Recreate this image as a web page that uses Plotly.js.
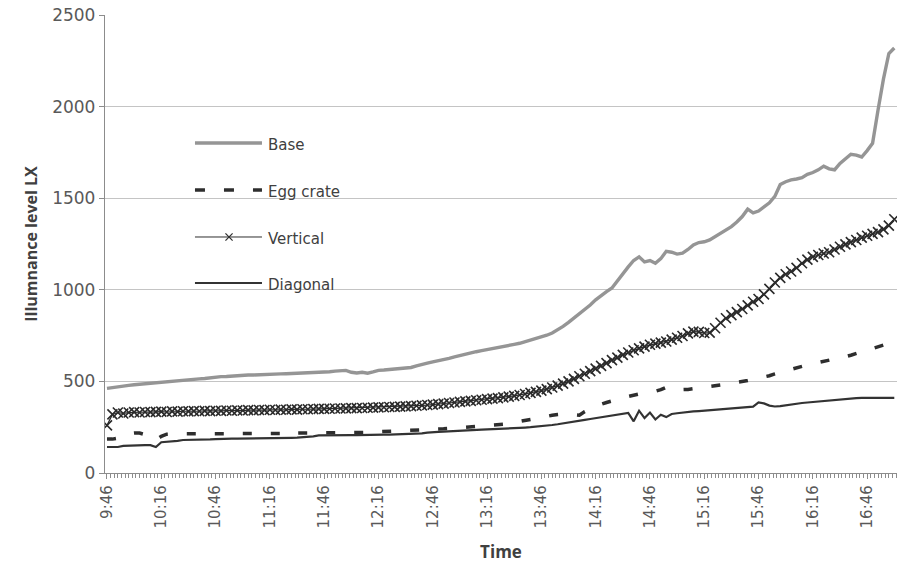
<!DOCTYPE html>
<html>
<head>
<meta charset="utf-8">
<script src="https://cdn.plot.ly/plotly-3.0.1.min.js"></script>
<style>html,body{margin:0;padding:0;background:#fff;}#chart{width:899px;height:565px;}</style>
</head>
<body>
<div id="chart"></div>
<script>
// Sample times (every 3 minutes)
const timeLabels = [
  "9:46","9:49","9:52","9:55","9:58","10:01","10:04","10:07","10:10","10:13",
  "10:16","10:19","10:22","10:25","10:28","10:31","10:34","10:37","10:40","10:43",
  "10:46","10:49","10:52","10:55","10:58","11:01","11:04","11:07","11:10","11:13",
  "11:16","11:19","11:22","11:25","11:28","11:31","11:34","11:37","11:40","11:43",
  "11:46","11:49","11:52","11:55","11:58","12:01","12:04","12:07","12:10","12:13",
  "12:16","12:19","12:22","12:25","12:28","12:31","12:34","12:37","12:40","12:43",
  "12:46","12:49","12:52","12:55","12:58","13:01","13:04","13:07","13:10","13:13",
  "13:16","13:19","13:22","13:25","13:28","13:31","13:34","13:37","13:40","13:43",
  "13:46","13:49","13:52","13:55","13:58","14:01","14:04","14:07","14:10","14:13",
  "14:16","14:19","14:22","14:25","14:28","14:31","14:34","14:37","14:40","14:43",
  "14:46","14:49","14:52","14:55","14:58","15:01","15:04","15:07","15:10","15:13",
  "15:16","15:19","15:22","15:25","15:28","15:31","15:34","15:37","15:40","15:43",
  "15:46","15:49","15:52","15:55","15:58","16:01","16:04","16:07","16:10","16:13",
  "16:16","16:19","16:22","16:25","16:28","16:31","16:34","16:37","16:40","16:43",
  "16:46","16:49","16:52","16:55","16:58","17:01"
];

const baseValues = [
  462,465,468,472,478,482,485,487,490,492,
  495,498,500,503,505,508,512,514,516,520,
  524,526,527,530,532,533,535,535,537,537,
  538,540,541,542,543,545,545,546,548,550,
  551,553,556,558,560,550,546,550,545,552,
  560,562,564,566,568,571,576,585,594,600,
  607,612,619,626,634,642,650,656,662,668,
  673,679,684,690,695,702,708,716,724,732,
  742,752,764,780,800,822,845,868,892,917,
  945,970,990,1010,1050,1090,1125,1160,1180,1152,
  1160,1145,1170,1210,1205,1195,1200,1220,1245,1258,
  1262,1272,1290,1310,1330,1345,1370,1400,1440,1420,
  1430,1455,1475,1510,1575,1590,1600,1605,1612,1630,
  1640,1655,1675,1660,1655,1690,1715,1740,1735,1725,
  1760,1800,1980,2150,2290,2320
];

const eggCrateValues = [
  185,185,190,205,215,218,218,210,190,180,
  200,212,214,214,214,214,214,214,215,215,
  215,215,215,215,215,215,215,216,216,216,
  216,216,216,210,222,218,218,219,219,220,
  220,220,220,220,220,220,220,220,222,224,
  225,226,227,228,229,230,232,233,235,236,
  238,240,241,243,245,248,250,252,254,256,
  258,260,262,266,270,276,282,288,294,298,
  303,309,315,319,322,320,318,315,335,350,
  365,375,385,395,402,410,418,426,434,438,
  442,446,455,468,470,462,455,456,460,463,
  466,469,472,478,484,490,494,498,505,512,
  518,525,531,541,550,558,566,575,582,590,
  596,602,608,613,620,628,635,643,652,660,
  668,678,688,698,710,722
];

const verticalValues = [
  260,320,330,325,330,332,330,333,332,334,
  335,333,336,335,337,336,338,337,339,338,
  340,339,341,340,342,341,343,342,344,343,
  345,344,346,345,347,346,348,348,349,350,
  350,351,352,352,353,354,354,355,356,357,
  358,359,360,361,362,364,365,367,369,371,
  373,376,379,382,385,388,391,394,397,400,
  403,406,409,413,417,421,426,431,437,443,
  450,458,467,477,488,500,514,528,542,556,
  570,585,600,616,630,645,658,670,680,690,
  700,706,712,718,728,738,748,762,772,770,
  764,766,790,820,845,862,878,895,915,935,
  950,975,1005,1040,1065,1085,1100,1120,1145,1165,
  1180,1190,1198,1205,1220,1235,1248,1260,1272,1285,
  1295,1305,1315,1330,1350,1385
];

const diagonalValues = [
  142,142,142,148,150,150,152,152,152,142,
  168,170,172,175,180,180,181,182,182,183,
  185,187,187,188,188,188,189,190,190,190,
  190,191,191,191,192,193,194,196,200,205,
  206,206,207,207,207,207,207,208,208,208,
  208,209,209,210,210,211,212,214,216,220,
  224,225,226,228,230,232,234,235,236,237,
  238,239,240,241,242,244,246,248,250,252,
  255,258,262,266,270,275,280,285,290,295,
  300,305,310,316,322,327,328,282,340,300,
  330,292,318,305,322,326,330,333,336,338,
  340,342,344,347,350,352,354,355,356,362,
  385,380,368,363,365,370,375,378,382,385,
  388,391,394,396,398,402,405,407,409,410,
  410,410,410,410,410,410
];

const seriesNames = ["Base", "Egg crate", "Vertical", "Diagonal"];
const tickLabels = ["9:46","10:16","10:46","11:16","11:46","12:16","12:46","13:16","13:46","14:16","14:46","15:16","15:46","16:16","16:46"];
const yTicks = [0, 500, 1000, 1500, 2000, 2500];

const day = "2000-01-01 ";
const xs = timeLabels.map(t => day + t);

const traces = [
  {x: xs, y: baseValues, name: seriesNames[0], type: "scatter", mode: "lines",
   line: {color: "#959595", width: 3.4}},
  {x: xs, y: eggCrateValues, name: seriesNames[1], type: "scatter", mode: "lines",
   line: {color: "#2e2e2e", width: 3.5, dash: "9px,19px"}},
  {x: xs, y: verticalValues, name: seriesNames[2], type: "scatter", mode: "lines+markers",
   line: {color: "#2a2a2a", width: 1.2},
   marker: {symbol: "x-thin", size: 10, color: "#2a2a2a", line: {width: 1.6, color: "#2a2a2a"}}},
  {x: xs, y: diagonalValues, name: seriesNames[3], type: "scatter", mode: "lines",
   line: {color: "#333333", width: 2.2}}
];

// manual legend inside plot area (paper coords)
const legX0 = 0.1136, legX1 = 0.1982, legTextX = 0.2033;
const legY = [0.7205, 0.6179, 0.5153, 0.4148];
const mx = 0.1566, mdx = 0.0045, mdy = 0.0078;
const shapes = [
  {type: "line", xref: "paper", yref: "paper", x0: legX0, x1: legX1, y0: legY[0], y1: legY[0], line: {color: "#959595", width: 3.4}},
  {type: "line", xref: "paper", yref: "paper", x0: legX0, x1: legX1, y0: legY[1], y1: legY[1], line: {color: "#2e2e2e", width: 3.5, dash: "10px,19px"}},
  {type: "line", xref: "paper", yref: "paper", x0: legX0, x1: legX1, y0: legY[2], y1: legY[2], line: {color: "#2e2e2e", width: 1}},
  {type: "line", xref: "paper", yref: "paper", x0: mx - mdx, x1: mx + mdx, y0: legY[2] - mdy, y1: legY[2] + mdy, line: {color: "#2e2e2e", width: 1.2}},
  {type: "line", xref: "paper", yref: "paper", x0: mx - mdx, x1: mx + mdx, y0: legY[2] + mdy, y1: legY[2] - mdy, line: {color: "#2e2e2e", width: 1.2}},
  {type: "line", xref: "paper", yref: "paper", x0: legX0, x1: legX1, y0: legY[3], y1: legY[3], line: {color: "#333333", width: 2.2}}
];
const annotations = seriesNames.map((n, i) => ({
  xref: "paper", yref: "paper", x: legTextX, y: legY[i] - 0.004, text: n, showarrow: false,
  xanchor: "left", yanchor: "middle", font: {family: "DejaVu Sans", size: 15, color: "#404040"}
}));

const layout = {
  width: 899, height: 565,
  margin: {l: 105, r: 2, t: 15, b: 92},
  paper_bgcolor: "#ffffff", plot_bgcolor: "#ffffff",
  showlegend: false,
  xaxis: {
    type: "date",
    range: [day + "09:44:54", day + "17:02:30"],
    tickvals: tickLabels.map(t => day + t), ticktext: tickLabels,
    tickangle: -90,
    tickfont: {family: "DejaVu Sans", size: 15, color: "#595959"},
    ticks: "outside", ticklen: 5, tickcolor: "#8c8c8c",
    minor: {dtick: 120000, ticks: "outside", ticklen: 4, tickcolor: "#8c8c8c", showgrid: false},
    showline: true, linecolor: "#8c8c8c", linewidth: 1.2,
    showgrid: false, zeroline: false,
    title: {text: "Time", font: {family: "Open Sans", size: 17, color: "#404040", weight: "bold"}, standoff: 18}
  },
  yaxis: {
    range: [0, 2500], tickvals: yTicks, ticktext: yTicks.map(String),
    tickfont: {family: "DejaVu Sans", size: 17, color: "#595959"},
    ticks: "outside", ticklen: 5, tickcolor: "#8c8c8c",
    showline: true, linecolor: "#8c8c8c", linewidth: 1.2,
    showgrid: true, gridcolor: "#c4c4c4", gridwidth: 1.3, zeroline: false,
    title: {text: "Illumnance level LX", font: {family: "Open Sans", size: 16, color: "#404040", weight: "bold"}, standoff: 10}
  },
  shapes: shapes,
  annotations: annotations
};

Plotly.newPlot("chart", traces, layout, {displayModeBar: false, staticPlot: true});
</script>
</body>
</html>
